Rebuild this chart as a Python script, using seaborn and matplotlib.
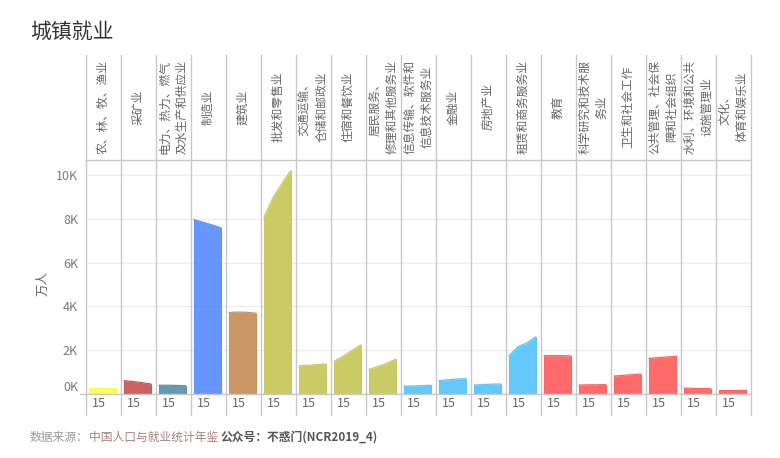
import numpy as np
import pandas as pd
import matplotlib
matplotlib.use("Agg")
import matplotlib.pyplot as plt
import matplotlib.transforms as mtransforms
from matplotlib.lines import Line2D
import seaborn as sns

# data (unit: thousand 万人)
years = [2015, 2016, 2017, 2018]
industries = [
    "农、林、牧、渔业", "采矿业", "电力、热力、燃气\n及水生产和供应业", "制造业", "建筑业",
    "批发和零售业", "交通运输、\n仓储和邮政业", "住宿和餐饮业", "居民服务、\n修理和其他服务业",
    "信息传输、软件和\n信息技术服务业", "金融业", "房地产业", "租赁和商务服务业", "教育",
    "科学研究和技术服\n务业", "卫生和社会工作", "公共管理、社会保\n障和社会组织",
    "水利、环境和公共\n设施管理业", "文化、\n体育和娱乐业",
]
employment = [
    [0.28, 0.28, 0.28, 0.28],
    [0.61, 0.57, 0.52, 0.46],
    [0.40, 0.40, 0.39, 0.38],
    [7.96, 7.84, 7.72, 7.59],
    [3.72, 3.74, 3.73, 3.69],
    [8.08, 8.95, 9.60, 10.20],
    [1.28, 1.31, 1.34, 1.37],
    [1.49, 1.72, 1.98, 2.24],
    [1.13, 1.25, 1.40, 1.59],
    [0.35, 0.37, 0.38, 0.40],
    [0.61, 0.65, 0.68, 0.70],
    [0.41, 0.43, 0.45, 0.46],
    [1.74, 2.16, 2.33, 2.61],
    [1.75, 1.75, 1.75, 1.74],
    [0.41, 0.42, 0.42, 0.43],
    [0.82, 0.85, 0.88, 0.91],
    [1.63, 1.66, 1.69, 1.72],
    [0.27, 0.26, 0.25, 0.24],
    [0.17, 0.17, 0.17, 0.17],
]
colors = [
    "#fdfd52", "#c85a5a", "#5d95ad", "#5e90fe", "#c9925d", "#c9c95e", "#c9c95e",
    "#c9c95e", "#c9c95e", "#5dc5fa", "#5dc5fa", "#5dc5fa", "#5dc5fa", "#ff6262",
    "#ff6262", "#ff6262", "#ff6262", "#ff6262", "#ff6262",
]
y_ticks = [0, 2, 4, 6, 8, 10]
y_tick_labels = ["0K", "2K", "4K", "6K", "8K", "10K"]

sns.set_style("white")
plt.rcParams["font.family"] = ["Noto Sans CJK SC", "DejaVu Sans"]

W, H = 780, 458
fig = plt.figure(figsize=(W / 100, H / 100), dpi=100)


def fx(px):
    return px / W


def fy(py):
    return 1 - py / H


x0, col_w = 85.7, 35.0
top_y, base_y = 160, 394
grid_c = "#c8c8c8"

# long-form table for seaborn
df = pd.DataFrame(
    [(ind, yr, v) for ind, vals in zip(industries, employment) for yr, v in zip(years, vals)],
    columns=["industry", "year", "value"],
)

for i, ind in enumerate(industries):
    ax = fig.add_axes([fx(x0 + i * col_w), fy(base_y), col_w / W, (base_y - top_y) / H])
    sub = df[df["industry"] == ind]
    ax.fill_between(sub["year"], 0, sub["value"], color=colors[i], alpha=0.95, lw=0, zorder=2)
    sns.lineplot(data=sub, x="year", y="value", ax=ax, color=colors[i], lw=0.9, zorder=3)
    ax.plot([years[0], years[0]], [0, sub["value"].iloc[0]], color=colors[i], lw=0.8, zorder=3)
    ax.plot([years[-1], years[-1]], [0, sub["value"].iloc[-1]], color=colors[i], lw=0.8, zorder=3)
    ax.set_xlim(years[0] - 3.3 / 8.9, years[-1] + 5.0 / 8.9)
    ax.set_ylim(0, 10.68)
    for s in ax.spines.values():
        s.set_visible(False)
    ax.set_yticks(y_ticks)
    ax.yaxis.grid(True, color="#eeeeee", lw=0.9)
    ax.set_axisbelow(True)
    ax.set_xlabel("")
    ax.set_ylabel("")
    ax.set_xticks([years[0]])
    ax.set_xticklabels([str(years[0])[2:]], ha="left", color="#666666", fontsize=9)
    ax.tick_params(axis="x", length=0, pad=2.5)
    for lab in ax.get_xticklabels():
        lab.set_transform(lab.get_transform() + mtransforms.ScaledTranslation(2.7 / 100, 0, fig.dpi_scale_trans))
    if i == 0:
        ax.set_yticklabels(y_tick_labels, color="#7a7a7a", fontsize=9)
        ax.tick_params(axis="y", length=0, pad=5.5)
        lab0 = ax.get_yticklabels()[0]
        lab0.set_transform(lab0.get_transform() + mtransforms.ScaledTranslation(0, 8 / 100, fig.dpi_scale_trans))
    else:
        ax.set_yticklabels([])
        ax.tick_params(axis="y", length=0)

    # column header
    fig.text(fx(x0 + (i + 0.5) * col_w), fy(107), ind, rotation=90, ha="center", va="center",
             multialignment="center", linespacing=1.4, fontsize=8.5, color="#666666")

# separators
x_end = x0 + 19 * col_w
for i in range(20):
    xx = fx(x0 + i * col_w)
    fig.add_artist(Line2D([xx, xx], [fy(55), fy(415)], color=grid_c, lw=1))
fig.add_artist(Line2D([fx(x0), fx(x_end)], [fy(top_y), fy(top_y)], color=grid_c, lw=1))
fig.add_artist(Line2D([fx(80), fx(x_end)], [fy(base_y), fy(base_y)], color=grid_c, lw=1))

# titles and labels
fig.text(fx(30), fy(32), "城镇就业", fontsize=15, color="#333333", ha="left", va="center")
fig.text(fx(43), fy(283), "万人", rotation=90, fontsize=9, color="#666666", ha="center", va="center")

fig.canvas.draw()
r = fig.canvas.get_renderer()
t1 = fig.text(fx(30), fy(437), "数据来源：", fontsize=8.5, color="#999999", ha="left", va="center")
bb = t1.get_window_extent(r)
t2 = fig.text(bb.x1 / W, fy(437), "中国人口与就业统计年鉴 ", fontsize=8.5, color="#a88080",
              ha="left", va="center")
bb = t2.get_window_extent(r)
fig.text(bb.x1 / W, fy(437), "公众号：不惑门(NCR2019_4)", fontsize=8.5, color="#555555",
         fontweight="bold", ha="left", va="center")

fig.savefig("out.png", dpi=100)
